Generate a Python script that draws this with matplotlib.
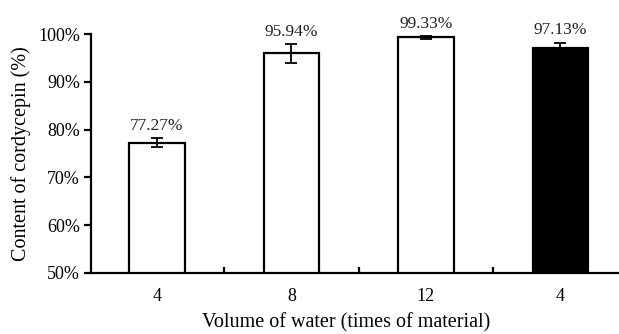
import matplotlib
matplotlib.use("Agg")
import matplotlib.pyplot as plt
import matplotlib.ticker as mticker
import numpy as np

# Data
categories = ['4', '8', '12', '4']
content = [77.27, 95.94, 99.33, 97.13]      # % cordycepin
errors = [0.95, 2.0, 0.3, 1.1]
bar_colors = ['white', 'white', 'white', 'black']

plt.rcParams['font.family'] = ['Liberation Serif', 'DejaVu Serif']

fig = plt.figure(figsize=(6.19, 3.34), dpi=100)
ax = fig.add_axes([0.147, 0.183, 0.853, 0.715])

x = np.arange(len(categories))
ax.bar(x, content, width=0.415, bottom=0, color=bar_colors,
       edgecolor='black', linewidth=1.6, zorder=2)
ax.errorbar(x, content, yerr=errors, fmt='none', ecolor='black',
            elinewidth=1.3, capsize=4, capthick=1.3, zorder=3)

for xi, val, err in zip(x, content, errors):
    ax.annotate(f'{val:.2f}%', xy=(xi, val + err), xytext=(0, 3),
                textcoords='offset points', ha='center', va='bottom',
                fontsize=12.5, color='#222222', annotation_clip=False)

ax.set_ylim(50, 100)
ax.set_xlim(-0.49, 3.435)
ax.set_yticks(np.arange(50, 101, 10))
ax.yaxis.set_major_formatter(mticker.FormatStrFormatter('%d%%'))
ax.tick_params(axis='y', direction='out', length=5, width=1.6,
               labelsize=13, pad=3)

# category labels centred on bars, small ticks between categories
ax.set_xticks(x)
ax.set_xticklabels(categories)
ax.tick_params(axis='x', which='major', length=0, labelsize=13, pad=11)
ax.set_xticks(np.arange(0.5, len(categories) - 0.5, 1), minor=True)
ax.tick_params(axis='x', which='minor', direction='in', length=4, width=1.6)

for side in ['top', 'right']:
    ax.spines[side].set_visible(False)
for side in ['left', 'bottom']:
    ax.spines[side].set_linewidth(1.6)

ax.set_xlabel('Volume of water (times of material)', fontsize=14.5)
ax.xaxis.set_label_coords(0.483, -0.17)
ax.set_ylabel('Content of cordycepin (%)', fontsize=14.5, labelpad=5)

fig.savefig('out.png', dpi=100)
